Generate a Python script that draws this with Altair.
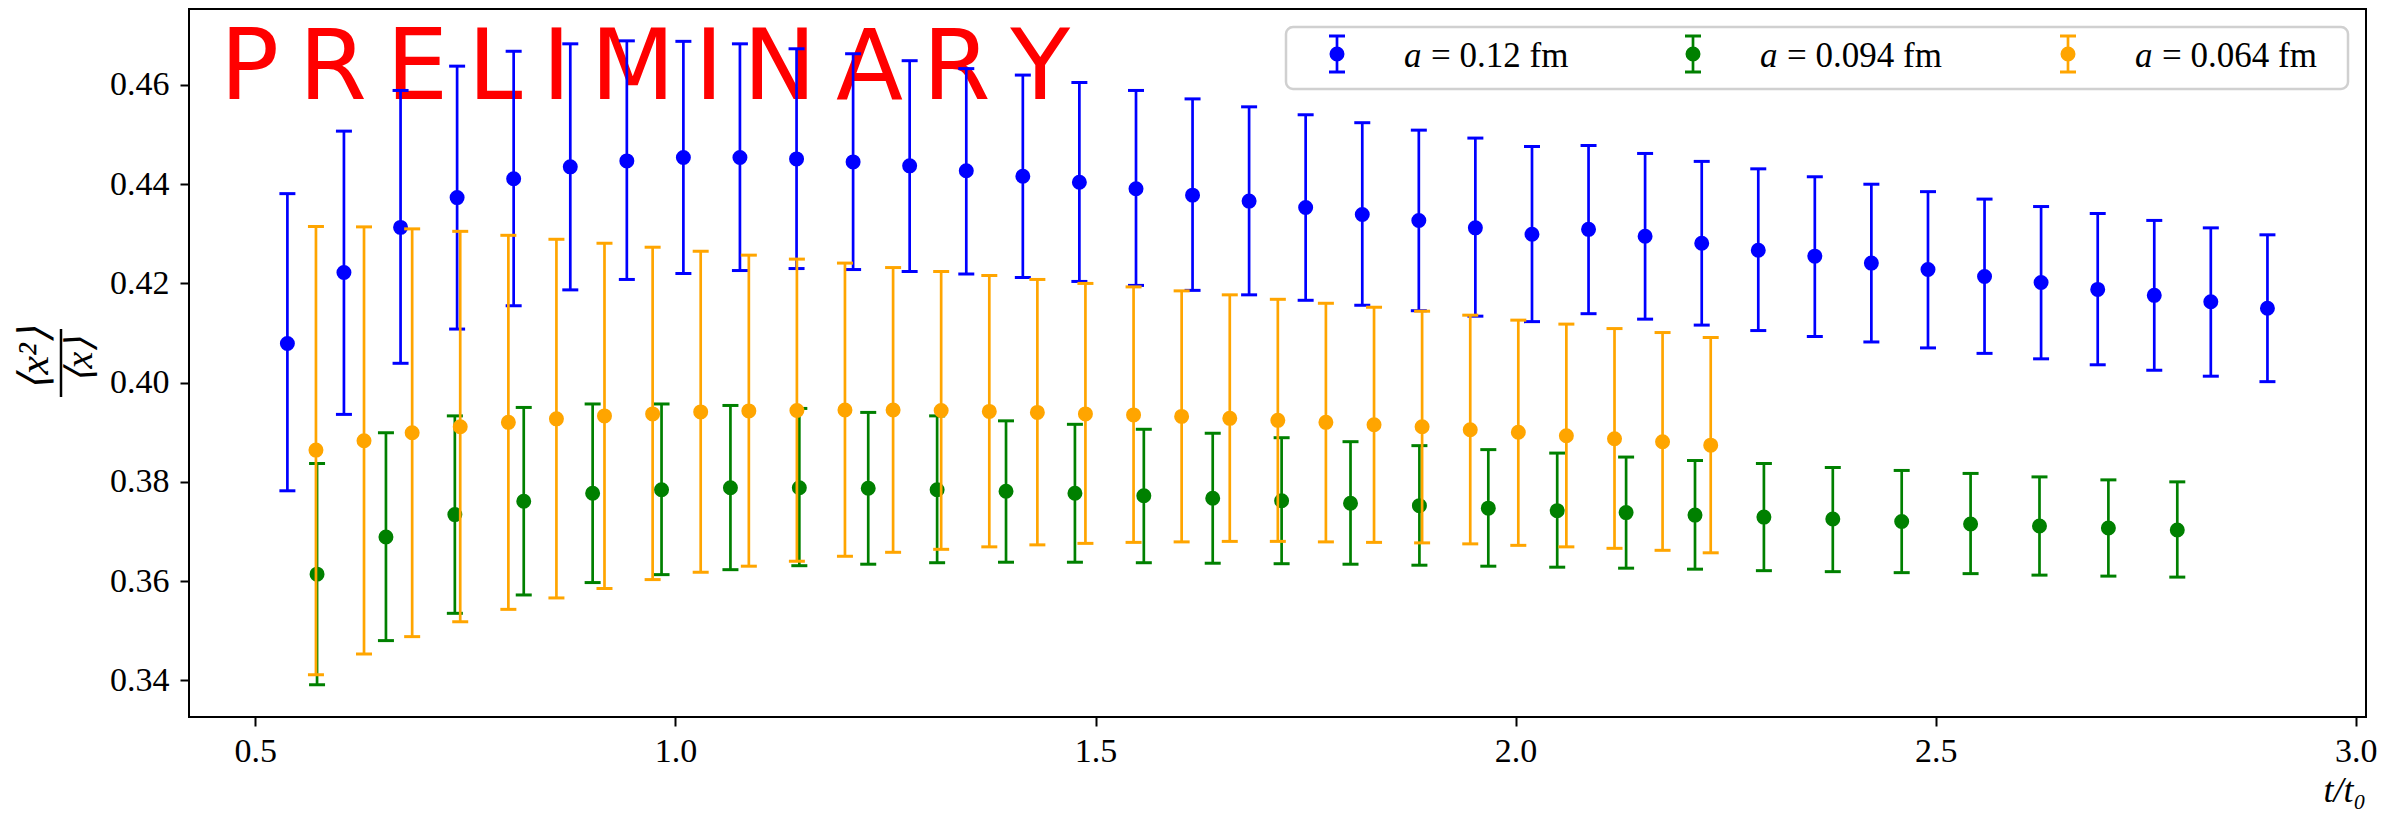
import altair as alt
import pandas as pd

# ---- series labels and colours -------------------------------------------
series_spacing = ["0.12", "0.094", "0.064"]          # lattice spacing a in fm
series_labels = [f"a = {s} fm" for s in series_spacing]
series_colors = ["#0000ff", "#008000", "#ffa500"]

# ---- a = 0.12 fm ------------------------------------------------------------
t_a012 = [0.5382, 0.6055, 0.6729, 0.7402, 0.8075, 0.8749, 0.9422, 1.0095, 1.0768,
          1.1442, 1.2115, 1.2788, 1.3462, 1.4135, 1.4808, 1.5482, 1.6155, 1.6828,
          1.7501, 1.8175, 1.8848, 1.9521, 2.0195, 2.0868, 2.1541, 2.2215, 2.2888,
          2.3561, 2.4234, 2.4908, 2.5581, 2.6254, 2.6928, 2.7601, 2.8274, 2.8948]
val_a012 = [0.4079, 0.4222, 0.4313, 0.4373, 0.4411, 0.4435, 0.4447, 0.4454, 0.4454,
            0.4451, 0.4445, 0.4437, 0.4427, 0.4416, 0.4404, 0.4391, 0.4378, 0.4366,
            0.4353, 0.4339, 0.4327, 0.4312, 0.4299, 0.4309, 0.4295, 0.4281, 0.4267,
            0.4255, 0.4241, 0.4228, 0.4214, 0.4202, 0.4188, 0.4176, 0.4163, 0.4150]
lo_a012 = [0.3782, 0.3936, 0.4039, 0.4108, 0.4155, 0.4187, 0.4208, 0.4220, 0.4226,
           0.4230, 0.4228, 0.4224, 0.4219, 0.4212, 0.4204, 0.4196, 0.4186, 0.4177,
           0.4166, 0.4156, 0.4145, 0.4134, 0.4123, 0.4139, 0.4128, 0.4116, 0.4105,
           0.4093, 0.4082, 0.4070, 0.4059, 0.4048, 0.4036, 0.4025, 0.4013, 0.4002]
hi_a012 = [0.4381, 0.4507, 0.4589, 0.4638, 0.4668, 0.4683, 0.4689, 0.4688, 0.4683,
           0.4673, 0.4663, 0.4649, 0.4633, 0.4620, 0.4605, 0.4589, 0.4572, 0.4556,
           0.4540, 0.4524, 0.4509, 0.4493, 0.4476, 0.4478, 0.4462, 0.4446, 0.4431,
           0.4415, 0.4400, 0.4385, 0.4370, 0.4355, 0.4341, 0.4327, 0.4312, 0.4298]

# ---- a = 0.094 fm -----------------------------------------------------------
t_a0094 = [0.5735, 0.6555, 0.7375, 0.8195, 0.9015, 0.9835, 1.0655, 1.1475, 1.2295,
           1.3115, 1.3935, 1.4755, 1.5575, 1.6395, 1.7215, 1.8035, 1.8855, 1.9675,
           2.0495, 2.1315, 2.2135, 2.2955, 2.3775, 2.4595, 2.5415, 2.6235, 2.7055,
           2.7875]
val_a0094 = [0.3614, 0.3689, 0.3734, 0.3761, 0.3777, 0.3784, 0.3788, 0.3788, 0.3787,
             0.3784, 0.3781, 0.3777, 0.3772, 0.3767, 0.3762, 0.3757, 0.3752, 0.3747,
             0.3742, 0.3738, 0.3733, 0.3729, 0.3725, 0.3720, 0.3715, 0.3711, 0.3707,
             0.3703]
lo_a0094 = [0.3391, 0.3480, 0.3535, 0.3572, 0.3597, 0.3613, 0.3623, 0.3631, 0.3634,
            0.3637, 0.3638, 0.3638, 0.3637, 0.3636, 0.3635, 0.3634, 0.3632, 0.3630,
            0.3628, 0.3626, 0.3624, 0.3621, 0.3619, 0.3617, 0.3615, 0.3612, 0.3610,
            0.3608]
hi_a0094 = [0.3837, 0.3899, 0.3933, 0.3950, 0.3957, 0.3957, 0.3954, 0.3948, 0.3940,
            0.3933, 0.3923, 0.3916, 0.3906, 0.3898, 0.3889, 0.3881, 0.3873, 0.3865,
            0.3858, 0.3850, 0.3843, 0.3837, 0.3829, 0.3823, 0.3817, 0.3810, 0.3804,
            0.3800]

# ---- a = 0.064 fm -----------------------------------------------------------
t_a0064 = [0.5722, 0.6294, 0.6867, 0.7439, 0.8012, 0.8584, 0.9156, 0.9729, 1.0301,
           1.0874, 1.1446, 1.2018, 1.2591, 1.3163, 1.3736, 1.4308, 1.4880, 1.5453,
           1.6025, 1.6598, 1.7170, 1.7742, 1.8315, 1.8887, 1.9460, 2.0032, 2.0604,
           2.1177, 2.1749, 2.2322]
val_a0064 = [0.3864, 0.3883, 0.3899, 0.3911, 0.3920, 0.3927, 0.3933, 0.3937, 0.3941,
             0.3943, 0.3944, 0.3945, 0.3945, 0.3944, 0.3942, 0.3940, 0.3937, 0.3935,
             0.3932, 0.3928, 0.3924, 0.3920, 0.3915, 0.3911, 0.3905, 0.3900, 0.3893,
             0.3887, 0.3881, 0.3874]
lo_a0064 = [0.3411, 0.3453, 0.3488, 0.3518, 0.3543, 0.3566, 0.3585, 0.3603, 0.3618,
            0.3630, 0.3640, 0.3650, 0.3658, 0.3664, 0.3669, 0.3673, 0.3676, 0.3678,
            0.3679, 0.3680, 0.3680, 0.3679, 0.3678, 0.3677, 0.3675, 0.3672, 0.3669,
            0.3666, 0.3662, 0.3657]
hi_a0064 = [0.4315, 0.4314, 0.4310, 0.4305, 0.4297, 0.4289, 0.4281, 0.4273, 0.4265,
            0.4257, 0.4249, 0.4241, 0.4232, 0.4224, 0.4216, 0.4208, 0.4200, 0.4193,
            0.4185, 0.4177, 0.4168, 0.4160, 0.4152, 0.4144, 0.4136, 0.4126, 0.4118,
            0.4109, 0.4101, 0.4091]

# ---- axis ticks ------------------------------------------------------------
x_ticks = [0.5, 1.0, 1.5, 2.0, 2.5, 3.0]
y_ticks = [0.34, 0.36, 0.38, 0.40, 0.42, 0.44, 0.46]

series_data = [
    (series_labels[0], t_a012, val_a012, lo_a012, hi_a012),
    (series_labels[1], t_a0094, val_a0094, lo_a0094, hi_a0094),
    (series_labels[2], t_a0064, val_a0064, lo_a0064, hi_a0064),
]

W, H = 2177, 708
FONT = "Liberation Serif"

x_scale = alt.Scale(domain=[0.4211, 3.0121], nice=False, zero=False)
y_scale = alt.Scale(domain=[0.3326, 0.47532], nice=False, zero=False)
col_scale = alt.Scale(domain=series_labels, range=series_colors)

x_enc = alt.X("t:Q", scale=x_scale,
              axis=alt.Axis(values=x_ticks, format=".1f", title=None))


def y_enc(field):
    return alt.Y(f"{field}:Q", scale=y_scale,
                 axis=alt.Axis(values=y_ticks, format=".2f", title=None))


one = pd.DataFrame({"k": [0]})

# ---- decorations -------------------------------------------------------------
stamp = alt.Chart(one).mark_text(
    text="\u2009".join("PRELIMINARY"), font="DejaVu Sans", fontSize=98,
    color="#ff0000", align="left", baseline="alphabetic"
).encode(x=alt.value(31), y=alt.value(90))

# y-axis label drawn as a rotated fraction
y_num = alt.Chart(one).mark_text(
    text="⟨x²⟩", font=FONT, fontSize=42, fontStyle="italic", angle=270,
    align="center", baseline="middle", color="black"
).encode(x=alt.value(-154), y=alt.value(350))
y_den = alt.Chart(one).mark_text(
    text="⟨x⟩", font=FONT, fontSize=38, fontStyle="italic", angle=270,
    align="center", baseline="middle", color="black"
).encode(x=alt.value(-108), y=alt.value(351))
y_bar = alt.Chart(one).mark_rule(color="black", strokeWidth=2.5).encode(
    x=alt.value(-128), y=alt.value(320), y2=alt.value(388))

# x-axis label at the right end
x_lab = alt.Chart(one).mark_text(
    text="t/t₀", font=FONT, fontSize=36, fontStyle="italic",
    align="right", baseline="alphabetic", color="black"
).encode(x=alt.value(W), y=alt.value(793))

layers = [stamp, y_num, y_den, y_bar, x_lab]

# ---- data: error bars, caps and markers, one series after another -----------
for label, ts, vs, los, his in series_data:
    d = pd.DataFrame({"series": label, "t": ts, "val": vs, "lo": los, "hi": his})
    base = alt.Chart(d)
    colour = alt.Color("series:N", scale=col_scale, legend=None)
    bars = base.mark_rule(strokeWidth=2.7).encode(
        x=x_enc, y=y_enc("lo"), y2="hi:Q", color=colour)
    cap_lo = base.mark_tick(orient="horizontal", size=16, thickness=3, opacity=1).encode(
        x=x_enc, y=y_enc("lo"), color=colour)
    cap_hi = base.mark_tick(orient="horizontal", size=16, thickness=3, opacity=1).encode(
        x=x_enc, y=y_enc("hi"), color=colour)
    dots = base.mark_point(filled=True, size=151, strokeWidth=2.7, opacity=1,
                           shape="circle").encode(
        x=x_enc, y=y_enc("val"), fill=colour, stroke=colour)
    layers += [bars, cap_lo, cap_hi, dots]

# ---- legend (frame + one errorbar glyph and label per series) ----------------
LEG_LEFT, LEG_RIGHT, LEG_TOP, LEG_BOTTOM = 1097, 2159, 18, 80
leg_glyph_x = [1148, 1504, 1879]   # glyph centres along the legend row
LEG_MID, LEG_CAP_TOP, LEG_CAP_BOT, LEG_BASE = 45, 27, 63, 58

layers.append(alt.Chart(one).mark_rect(
    fill="white", fillOpacity=0.8, stroke="#d0d0d0", strokeWidth=2.5, cornerRadius=7
).encode(x=alt.value(LEG_LEFT), x2=alt.value(LEG_RIGHT),
         y=alt.value(LEG_TOP), y2=alt.value(LEG_BOTTOM)))

for gx, spacing, colr in zip(leg_glyph_x, series_spacing, series_colors):
    layers += [
        alt.Chart(one).mark_rule(color=colr, strokeWidth=2.7).encode(
            x=alt.value(gx), y=alt.value(LEG_CAP_TOP), y2=alt.value(LEG_CAP_BOT)),
        alt.Chart(one).mark_rule(color=colr, strokeWidth=3).encode(
            x=alt.value(gx - 8), x2=alt.value(gx + 8), y=alt.value(LEG_CAP_TOP)),
        alt.Chart(one).mark_rule(color=colr, strokeWidth=3).encode(
            x=alt.value(gx - 8), x2=alt.value(gx + 8), y=alt.value(LEG_CAP_BOT)),
        alt.Chart(one).mark_point(filled=True, size=151, strokeWidth=2.7, opacity=1,
                                  shape="circle", fill=colr, stroke=colr).encode(
            x=alt.value(gx), y=alt.value(LEG_MID)),
        alt.Chart(one).mark_text(
            text="a", font=FONT, fontSize=35, fontStyle="italic", color="black",
            align="left", baseline="alphabetic").encode(
            x=alt.value(gx + 67), y=alt.value(LEG_BASE)),
        alt.Chart(one).mark_text(
            text=f"= {spacing} fm", font=FONT, fontSize=35, color="black",
            align="left", baseline="alphabetic").encode(
            x=alt.value(gx + 94), y=alt.value(LEG_BASE)),
    ]

chart = alt.layer(*layers).properties(
    width=W, height=H,
    padding={"left": 189, "top": 9, "right": 16, "bottom": 96},
    autosize=alt.AutoSizeParams(type="none"),
    background="white",
).configure_view(
    stroke="black", strokeWidth=2
).configure_axis(
    domain=False, grid=False, tickColor="black", tickWidth=2, tickSize=9,
    labelFont=FONT, labelFontSize=34, labelColor="black",
).configure_axisX(
    labelPadding=8
).configure_axisY(
    labelPadding=11
)

chart.save("out.html", embed_options={"renderer": "svg", "actions": False})
